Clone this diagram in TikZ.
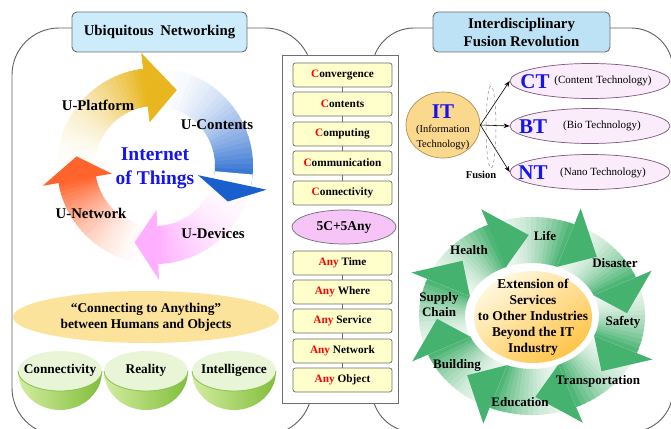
\documentclass[tikz,border=0pt]{standalone}
\usepackage{fontspec}
\setmainfont{Liberation Serif}
\usetikzlibrary{shapes.geometric,arrows.meta}

\definecolor{framegray}{RGB}{95,95,95}
\definecolor{titleblue}{RGB}{204,236,252}
\definecolor{titleblue2}{RGB}{190,226,245}
\definecolor{boxyellow}{RGB}{255,255,204}
\definecolor{anypink}{RGB}{246,196,246}
\definecolor{goldc}{RGB}{232,182,30}
\definecolor{bluec}{RGB}{25,95,205}
\definecolor{pinkc}{RGB}{255,175,255}
\definecolor{orangec}{RGB}{255,100,45}
\definecolor{greenhead}{RGB}{70,178,112}
\definecolor{greentail}{RGB}{238,247,240}
\definecolor{conncol}{RGB}{251,227,155}
\definecolor{ittan}{RGB}{250,216,142}
\definecolor{itedge}{RGB}{175,145,85}
\definecolor{lav}{RGB}{251,236,251}
\definecolor{lavedge}{RGB}{125,85,125}
\definecolor{textblue}{RGB}{20,20,240}
\definecolor{extlight}{RGB}{255,248,222}
\definecolor{extdark}{RGB}{255,196,72}
\definecolor{bowlL}{RGB}{212,236,160}
\definecolor{bowlR}{RGB}{128,190,58}
\definecolor{rimcol}{RGB}{232,245,214}
\definecolor{rimedge}{RGB}{140,192,80}
\definecolor{boxedge}{RGB}{110,110,110}

% body of a curved arrow: rx ry halfwidth tailangle headangle tailcolor headcolor slices
\newcommand{\ringbody}[8]{%
  \foreach \k in {1,...,#8}{%
    \pgfmathsetmacro\ta{(#4)+((#5)-(#4))*(\k-1)/(#8)}%
    \pgfmathsetmacro\tb{(#4)+((#5)-(#4))*\k/(#8)+(((#5)-(#4))/abs((#5)-(#4)))*0.8}%
    \pgfmathsetmacro\tm{(\ta+\tb)/2}%
    \pgfmathtruncatemacro\pc{100*((\k-0.5)/(#8))^1.8}%
    \fill[#7!\pc!#6] ({((#1)-(#3))*cos(\ta)},{((#2)-(#3))*sin(\ta)})
      -- ({((#1)+(#3))*cos(\ta)},{((#2)+(#3))*sin(\ta)})
      -- ({((#1)+(#3))*cos(\tm)},{((#2)+(#3))*sin(\tm)})
      -- ({((#1)+(#3))*cos(\tb)},{((#2)+(#3))*sin(\tb)})
      -- ({((#1)-(#3))*cos(\tb)},{((#2)-(#3))*sin(\tb)})
      -- ({((#1)-(#3))*cos(\tm)},{((#2)-(#3))*sin(\tm)}) -- cycle;
  }}
% head: rx ry inner-offset outer-offset baseangle tipangle tip-offset color
\newcommand{\ringhead}[8]{%
  \fill[#8] ({((#1)+(#3))*cos(#5)},{((#2)+(#3))*sin(#5)})
    -- ({((#1)+(#4))*cos(#5)},{((#2)+(#4))*sin(#5)})
    -- ({((#1)+(#7))*cos(#6)},{((#2)+(#7))*sin(#6)}) -- cycle;}

\tikzset{
  outerframe/.style={draw=framegray, line width=0.9pt},
  titlebox/.style={draw=boxedge, rounded corners=5pt, line width=0.9pt, align=center,
    font=\fontsize{14.8}{18}\selectfont\bfseries, inner sep=0pt},
  cbox/.style={draw=boxedge, fill=boxyellow, rounded corners=2.5pt, minimum width=99,
    minimum height=24, inner sep=0pt, line width=0.7pt, font=\fontsize{11.3}{13}\selectfont\bfseries},
  ringlab/.style={font=\fontsize{14.8}{17}\selectfont\bfseries, inner sep=0pt},
  svclab/.style={font=\fontsize{13}{15}\selectfont\bfseries, align=center, inner sep=0pt},
  bowllab/.style={font=\fontsize{13.3}{15}\selectfont\bfseries, inner sep=0pt},
  techell/.style={ellipse, draw=lavedge, fill=lav, minimum width=160, minimum height=35,
    inner sep=0pt, line width=0.7pt},
  techbig/.style={text=textblue, font=\fontsize{21}{22}\selectfont\bfseries, inner sep=0pt},
  techsmall/.style={font=\fontsize{11}{13}\selectfont, inner sep=0pt},
  link/.style={draw=boxedge, line width=0.7pt},
  fusarrow/.style={draw=black, line width=0.6pt, -{Stealth[length=6pt,width=4.5pt]}},
}

\begin{document}
\begin{tikzpicture}[x=1pt,y=-1pt]
\useasboundingbox (0,0) rectangle (671,428);

% outer frames
\draw[outerframe, rounded corners=47pt] (12,28) rectangle (312,435);
\draw[outerframe, rounded corners=42pt] (372,28) rectangle (673,432);

% title boxes
\node[titlebox, fill=titleblue, minimum width=175, minimum height=40] (ubi) at (159.5,32)
  {Ubiquitous\hspace{0.45em}Networking};
\node[titlebox, fill=titleblue2, minimum width=177, minimum height=40] (ifr) at (521.5,32)
  {Interdisciplinary\\Fusion Revolution};

% ---------- left ring ----------
\begin{scope}[shift={(155,166)}, yscale=-1]
  \ringbody{79}{79}{19}{185}{97}{white}{goldc}{30}
  \ringbody{79}{79}{19}{88}{-12}{white}{bluec}{30}
  \ringbody{79}{79}{19}{-5}{-88}{white}{pinkc}{30}
  \ringbody{79}{79}{19}{-95}{-170}{white}{orangec}{30}
  \ringhead{79}{79}{-35}{35}{97}{74}{0}{goldc}
  \ringhead{79}{79}{-35}{35}{-12}{-26}{2}{bluec}
  \ringhead{79}{79}{-35}{35}{-88}{-105}{0}{pinkc}
  \ringhead{79}{79}{-35}{35}{-170}{-187}{0}{orangec}
\end{scope}
\node[ringlab] (lplat) at (98,105) {U-Platform};
\node[ringlab] (lcont) at (217,125) {U-Contents};
\node[ringlab] (lnet) at (91,213) {U-Network};
\node[ringlab] (ldev) at (213,233) {U-Devices};
\node[text=textblue, font=\fontsize{19.5}{24}\selectfont\bfseries, align=center, inner sep=0pt]
  (iot) at (155,168) {Internet\\of Things};

% connecting ellipse
\node[ellipse, fill=conncol, minimum width=266, minimum height=52, inner sep=0pt,
  align=center, font=\fontsize{13.4}{16}\selectfont\bfseries] (conn) at (146,317)
  {``Connecting to Anything''\\between Humans and Objects};

% bowls
\foreach \cx/\nm/\txt in {60/b1/Connectivity, 146/b2/Reality, 234/b3/Intelligence}{
  \shade[left color=bowlL, right color=bowlR] (\cx-42,371) arc[start angle=180, end angle=0, x radius=42, y radius=39] -- cycle;
  \fill[rimcol] (\cx,371) ellipse [x radius=42, y radius=20];
  \draw[rimedge, line width=0.8pt] (\cx-42,371) arc[start angle=180, end angle=0, x radius=42, y radius=20];
  \node[bowllab] (\nm) at (\cx,370) {\txt};
}

% ---------- centre column ----------
\node[draw=boxedge, fill=white, line width=0.9pt, minimum width=116, minimum height=348, inner sep=0pt] (cbx) at (340,229) {};
\node[cbox] (c1) at (342.5,75) {{\color{red}C}onvergence};
\node[cbox] (c2) at (342.5,104) {{\color{red}C}ontents};
\node[cbox] (c3) at (342.5,134) {{\color{red}C}omputing};
\node[cbox] (c4) at (342.5,163) {{\color{red}C}ommunication};
\node[cbox] (c5) at (342.5,193) {{\color{red}C}onnectivity};
\node[ellipse, draw=boxedge, fill=anypink, line width=0.7pt, minimum width=104, minimum height=34,
  inner sep=0pt, font=\fontsize{13.5}{15}\selectfont\bfseries] (fivec) at (344,227) {5C+5Any};
\node[cbox] (a1) at (342.5,263) {{\color{red}Any} Time};
\node[cbox] (a2) at (342.5,292) {{\color{red}Any} Where};
\node[cbox] (a3) at (342.5,321) {{\color{red}Any} Service};
\node[cbox] (a4) at (342.5,351) {{\color{red}Any} Network};
\node[cbox] (a5) at (342.5,380) {{\color{red}Any} Object};
\draw[link] (c1) -- (c2) (c2) -- (c3) (c3) -- (c4) (c4) -- (c5);
\draw[link] (a1) -- (a2) (a2) -- (a3) (a3) -- (a4) (a4) -- (a5);

% ---------- IT fusion ----------
\node[ellipse, draw=itedge, fill=ittan, line width=0.7pt, minimum width=74, minimum height=66, inner sep=0pt] (it) at (443,125) {};
\node[text=textblue, font=\fontsize{21}{22}\selectfont\bfseries, inner sep=0pt] (itl) at (443,112) {IT};
\node[font=\fontsize{10.5}{12}\selectfont, inner sep=0pt] (iti) at (443,130) {(Information};
\node[font=\fontsize{10.5}{12}\selectfont, inner sep=0pt] (itt) at (443,145) {Technology)};

\node[techell] (ct) at (590,81) {};
\node[techell] (bt) at (590,126) {};
\node[techell] (nt) at (590,172) {};
\node[techbig] (ctl) at (535,82) {CT};
\node[techbig] (btl) at (533,127) {BT};
\node[techbig] (ntl) at (533,173) {NT};
\node[techsmall] (cts) at (603,81) {(Content\hspace{0.3em}Technology)};
\node[techsmall] (bts) at (602,126) {(Bio Technology)};
\node[techsmall] (nts) at (603,173) {(Nano Technology)};

\draw[fusarrow] (it.east) -- (ct.west);
\draw[fusarrow] (it.east) -- (bt.west);
\draw[fusarrow] (it.east) -- (nt.west);
\node[ellipse, draw=gray, dashed, line width=0.5pt, minimum width=10, minimum height=82, inner sep=0pt] (fus) at (491,127) {};
\node[font=\fontsize{10.5}{12}\selectfont\bfseries, inner sep=0pt] (fusl) at (481,175) {Fusion};

% ---------- right ring ----------
\begin{scope}[shift={(532,316)}, yscale=-1]
  \foreach \b in {68,23,-22,-67,-112,-157,-202,-247}{
    \pgfmathsetmacro\bt{\b+45}
    \ringbody{90}{76}{23}{\bt}{\b}{greentail}{greenhead}{16}
  }
  \foreach \b in {68,23,-22,-67,-112,-157,-202,-247}{
    \pgfmathsetmacro\bh{\b-21}
    \ringhead{90}{76}{-23}{40}{\b}{\bh}{5}{greenhead}
  }
\end{scope}
\shade[top color=extlight, bottom color=extdark, shading angle=35] (533,317) ellipse [x radius=59, y radius=46];
\node[align=center, font=\fontsize{13.4}{16}\selectfont\bfseries, inner sep=0pt] (ext) at (533,317)
  {Extension of\\Services\\to Other Industries\\Beyond the IT\\Industry};
\node[svclab] (life) at (545,236) {Life};
\node[svclab] (dis) at (615,263) {Disaster};
\node[svclab] (saf) at (623,322) {Safety};
\node[svclab] (tra) at (598,381) {Transportation};
\node[svclab] (edu) at (520,402) {Education};
\node[svclab] (bui) at (457,365) {Building};
\node[svclab] (sup) at (439,305) {Supply\\Chain};
\node[svclab] (hea) at (469,250) {Health};
\end{tikzpicture}
\end{document}
